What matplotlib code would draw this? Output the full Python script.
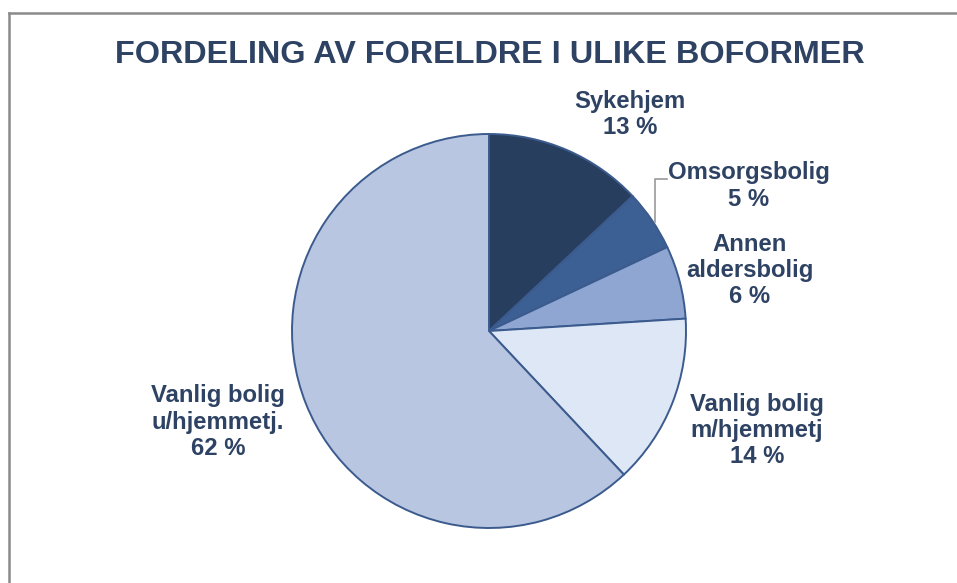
import matplotlib
matplotlib.use("Agg")
import matplotlib.pyplot as plt
from matplotlib.lines import Line2D

plt.rcParams['font.family'] = ['Liberation Sans', 'DejaVu Sans']

title = "FORDELING AV FORELDRE I ULIKE BOFORMER"
categories = ["Sykehjem", "Omsorgsbolig", "Annen\naldersbolig",
              "Vanlig bolig\nm/hjemmetj", "Vanlig bolig\nu/hjemmetj."]
values = [13, 5, 6, 14, 62]
colors = ["#283e5e", "#3c5f94", "#8ea6d1", "#dde7f5", "#b8c6e1"]
label_pos = [(0.716, 1.10), (1.32, 0.736), (1.325, 0.305), (1.36, -0.503), (-1.376, -0.462)]

W, H = 957, 583
fig = plt.figure(figsize=(W / 100, H / 100), dpi=100)

# figure frame (gray border left and top)
fig.add_artist(Line2D([9 / W, 9 / W], [0, 1 - 13 / H], transform=fig.transFigure,
                      color="#8a8a8a", lw=1.8))
fig.add_artist(Line2D([9 / W, 1], [1 - 13 / H, 1 - 13 / H], transform=fig.transFigure,
                      color="#8a8a8a", lw=1.8))

cx, cy, r = 489, 331, 197
ax = fig.add_axes([(cx - r) / W, (H - cy - r) / H, 2 * r / W, 2 * r / H])
ax.pie(values, colors=colors, startangle=90, counterclock=False, radius=1,
       wedgeprops=dict(edgecolor="#3b5b8e", linewidth=1.4))
ax.set_xlim(-1, 1)
ax.set_ylim(-1, 1)
ax.set_aspect("equal")

txtc = "#2e4263"
for cat, v, (x, y) in zip(categories, values, label_pos):
    ax.text(x, y, f"{cat}\n{v} %", ha="center", va="center", fontsize=17.2,
            fontweight="bold", color=txtc, linespacing=1.17, clip_on=False)

# leader line for Omsorgsbolig
ax.plot([0.843, 0.843, 0.904], [0.553, 0.772, 0.772], color="#9a9a9a", lw=1.2,
        clip_on=False)

fig.text(490 / W, 1 - 55 / H, title, ha="center", va="center", fontsize=23.3,
         fontweight="bold", color=txtc)

fig.savefig("out.png", dpi=100, facecolor="white")
